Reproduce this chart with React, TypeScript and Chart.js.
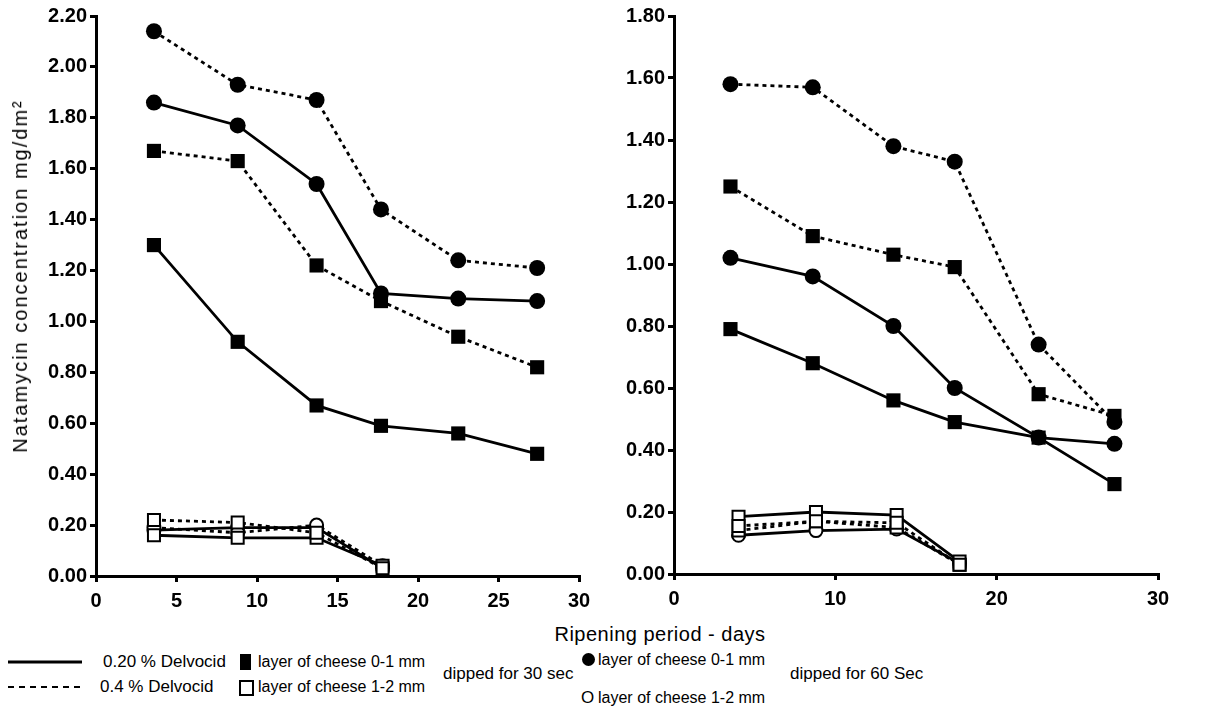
import React, { useEffect, useRef } from 'react';
import { Chart, registerables } from 'chart.js';

Chart.register(...registerables);

// ---------- DATA ----------
// Left panel
const leftDays = [3.6, 8.8, 13.7, 17.7, 22.5, 27.4];
const leftDaysLow = [3.6, 8.8, 13.7, 17.8];
const leftSq020 = [1.3, 0.92, 0.67, 0.59, 0.56, 0.48];
const leftSq04 = [1.67, 1.63, 1.22, 1.08, 0.94, 0.82];
const leftCi020 = [1.86, 1.77, 1.54, 1.11, 1.09, 1.08];
const leftCi04 = [2.14, 1.93, 1.87, 1.44, 1.24, 1.21];
const leftSq020Low = [0.16, 0.15, 0.15, 0.04];
const leftSq04Low = [0.22, 0.21, 0.17, 0.03];
const leftCi020Low = [0.18, 0.19, 0.19, 0.03];
const leftCi04Low = [0.19, 0.17, 0.2, 0.04];

// Right panel
const rightDays = [3.5, 8.6, 13.6, 17.4, 22.6, 27.3];
const rightDaysLow = [4.0, 8.8, 13.8, 17.7];
const rightSq020 = [0.79, 0.68, 0.56, 0.49, 0.44, 0.29];
const rightSq04 = [1.25, 1.09, 1.03, 0.99, 0.58, 0.51];
const rightCi020 = [1.02, 0.96, 0.8, 0.6, 0.44, 0.42];
const rightCi04 = [1.58, 1.57, 1.38, 1.33, 0.74, 0.49];
const rightSq020Low = [0.185, 0.2, 0.19, 0.04];
const rightSq04Low = [0.155, 0.17, 0.165, 0.03];
const rightCi020Low = [0.125, 0.14, 0.145, 0.035];
const rightCi04Low = [0.14, 0.17, 0.15, 0.03];

// Tick labels
const leftXTicks = [0, 5, 10, 15, 20, 25, 30];
const rightXTicks = [0, 10, 20, 30];
const leftYTicks = [0, 0.2, 0.4, 0.6, 0.8, 1.0, 1.2, 1.4, 1.6, 1.8, 2.0, 2.2];
const rightYTicks = [0, 0.2, 0.4, 0.6, 0.8, 1.0, 1.2, 1.4, 1.6, 1.8];

const FONT = '"Liberation Sans", Arial, Helvetica, sans-serif';

type Shape = 'sq' | 'ci';

function ds(days: number[], vals: number[], dashed: boolean, shape: Shape, filled: boolean, label: string) {
  return {
    label,
    data: days.map((d, i) => ({ x: d, y: vals[i] })),
    borderColor: '#000',
    borderWidth: 2.8,
    borderDash: dashed ? [4, 4] : [],
    pointStyle: shape === 'sq' ? 'rect' : 'circle',
    pointRadius: shape === 'sq' ? (filled ? 10 : 8.5) : filled ? 8 : 6.5,
    pointHoverRadius: shape === 'sq' ? 10 : 8,
    pointBackgroundColor: filled ? '#000' : '#fff',
    pointBorderColor: '#000',
    pointBorderWidth: filled ? 0 : 2,
    tension: 0,
    fill: false,
    clip: false as any,
  };
}

function axisCommon() {
  return {
    grid: { display: true, drawOnChartArea: false, drawTicks: true, tickLength: 6, color: '#000', lineWidth: 3 },
    border: { display: true, color: '#000', width: 3 },
  };
}

function makeConfig(
  datasets: any[],
  xTicks: number[],
  yTicks: number[],
  yMax: number,
  yWidth: number,
  xHeight: number,
  padRight: number
) {
  return {
    type: 'line' as const,
    data: { datasets },
    options: {
      responsive: false,
      animation: false as const,
      layout: { padding: { top: 16, right: padRight, left: 0, bottom: 0 } },
      plugins: { legend: { display: false }, tooltip: { enabled: false } },
      scales: {
        x: {
          type: 'linear' as const,
          min: 0,
          max: 30,
          afterBuildTicks: (s: any) => {
            s.ticks = xTicks.map((v) => ({ value: v }));
          },
          afterFit: (s: any) => {
            s.height = xHeight;
          },
          ticks: {
            color: '#000',
            font: { family: FONT, size: 20, weight: 'bold' as const },
            padding: 7,
            maxRotation: 0,
            autoSkip: false,
          },
          ...axisCommon(),
        },
        y: {
          type: 'linear' as const,
          min: 0,
          max: yMax,
          afterBuildTicks: (s: any) => {
            s.ticks = yTicks.map((v) => ({ value: v }));
          },
          afterFit: (s: any) => {
            s.width = yWidth;
          },
          ticks: {
            color: '#000',
            font: { family: FONT, size: 20, weight: 'bold' as const },
            padding: 3,
            autoSkip: false,
            callback: (v: any) => Number(v).toFixed(2),
          },
          ...axisCommon(),
        },
      },
    },
  };
}

function ChartCanvas({ config, left, top, width, height }: any) {
  const ref = useRef<HTMLCanvasElement | null>(null);
  useEffect(() => {
    if (!ref.current) return;
    const chart = new Chart(ref.current, config);
    return () => chart.destroy();
  }, []);
  return (
    <canvas
      ref={ref}
      width={width}
      height={height}
      style={{ position: 'absolute', left, top, width, height }}
    />
  );
}

const leftDatasets = [
  ds(leftDays, leftCi04, true, 'ci', true, '0.4% 60s 0-1mm'),
  ds(leftDays, leftCi020, false, 'ci', true, '0.20% 60s 0-1mm'),
  ds(leftDays, leftSq04, true, 'sq', true, '0.4% 30s 0-1mm'),
  ds(leftDays, leftSq020, false, 'sq', true, '0.20% 30s 0-1mm'),
  ds(leftDaysLow, leftSq04Low, true, 'sq', false, '0.4% 30s 1-2mm'),
  ds(leftDaysLow, leftSq020Low, false, 'sq', false, '0.20% 30s 1-2mm'),
  ds(leftDaysLow, leftCi04Low, true, 'ci', false, '0.4% 60s 1-2mm'),
  ds(leftDaysLow, leftCi020Low, false, 'ci', false, '0.20% 60s 1-2mm'),
];

const rightDatasets = [
  ds(rightDays, rightCi04, true, 'ci', true, '0.4% 60s 0-1mm'),
  ds(rightDays, rightCi020, false, 'ci', true, '0.20% 60s 0-1mm'),
  ds(rightDays, rightSq04, true, 'sq', true, '0.4% 30s 0-1mm'),
  ds(rightDays, rightSq020, false, 'sq', true, '0.20% 30s 0-1mm'),
  ds(rightDaysLow, rightSq04Low, true, 'sq', false, '0.4% 30s 1-2mm'),
  ds(rightDaysLow, rightSq020Low, false, 'sq', false, '0.20% 30s 1-2mm'),
  ds(rightDaysLow, rightCi04Low, true, 'sq', false, '0.4% 60s 1-2mm'),
  ds(rightDaysLow, rightCi020Low, false, 'ci', false, '0.20% 60s 1-2mm'),
];

const txt: React.CSSProperties = {
  position: 'absolute',
  fontFamily: FONT,
  fontSize: 17,
  color: '#000',
  whiteSpace: 'nowrap',
  lineHeight: '20px',
};

export default function App() {
  const leftCfg = makeConfig(leftDatasets, leftXTicks, leftYTicks, 2.2, 96, 44, 21);
  const rightCfg = makeConfig(rightDatasets, rightXTicks, rightYTicks, 1.8, 64, 46, 60);
  return (
    <div style={{ position: 'absolute', left: 0, top: 0, width: 1218, height: 723, background: '#fff', overflow: 'hidden' }}>
      <ChartCanvas config={leftCfg} left={0} top={0} width={600} height={620} />
      <ChartCanvas config={rightCfg} left={610} top={0} width={608} height={620} />

      {/* Y axis title */}
      <div
        style={{
          ...txt,
          fontSize: 20,
          letterSpacing: '2px',
          left: 20,
          top: 276,
          transform: 'translate(-50%, -50%) rotate(-90deg)',
        }}
      >
        Natamycin concentration mg/dm²
      </div>

      {/* X axis title */}
      <div style={{ ...txt, fontSize: 20, letterSpacing: '0.5px', left: 660, top: 634, transform: 'translate(-50%, -50%)' }}>
        Ripening period - days
      </div>

      {/* Legend */}
      <svg style={{ position: 'absolute', left: 0, top: 650, overflow: 'visible' }} width={100} height={60}>
        <line x1={8} y1={12} x2={82} y2={12} stroke="#000" strokeWidth={3} />
        <line x1={8} y1={37} x2={82} y2={37} stroke="#000" strokeWidth={2} strokeDasharray="6 5" />
      </svg>
      <div style={{ ...txt, left: 103, top: 652 }}>0.20 % Delvocid</div>
      <div style={{ ...txt, left: 100, top: 677 }}>0.4 % Delvocid</div>

      <div style={{ position: 'absolute', left: 240, top: 654, width: 11, height: 16, background: '#000' }} />
      <div style={{ ...txt, fontSize: 16, left: 258, top: 652 }}>layer of cheese 0-1 mm</div>
      <div
        style={{ position: 'absolute', left: 239, top: 680, width: 11, height: 12, border: '2px solid #000', background: '#fff' }}
      />
      <div style={{ ...txt, fontSize: 16, left: 258, top: 677 }}>layer of cheese 1-2 mm</div>

      <div style={{ ...txt, left: 443, top: 664 }}>dipped for 30 sec</div>

      <div style={{ position: 'absolute', left: 582, top: 653, width: 13, height: 13, borderRadius: '50%', background: '#000' }} />
      <div style={{ ...txt, fontSize: 16, left: 598, top: 650 }}>layer of cheese 0-1 mm</div>
      <div style={{ ...txt, left: 581, top: 688 }}>O</div>
      <div style={{ ...txt, fontSize: 16, left: 598, top: 688 }}>layer of cheese 1-2 mm</div>

      <div style={{ ...txt, left: 790, top: 664 }}>dipped for 60 Sec</div>
    </div>
  );
}
